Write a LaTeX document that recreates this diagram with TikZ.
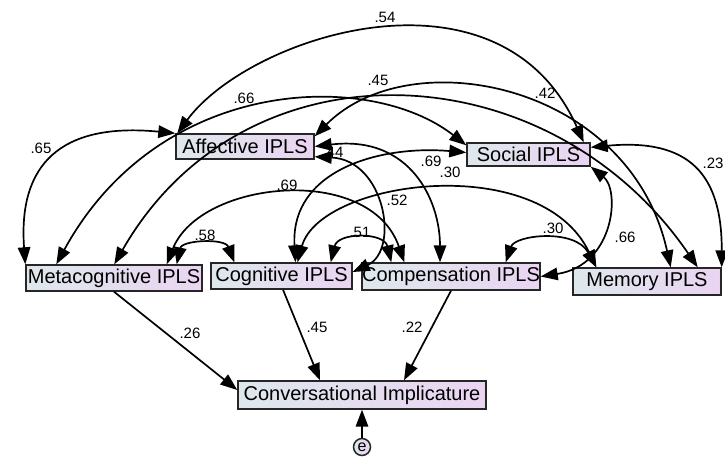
\documentclass[tikz,border=0pt]{standalone}
\usepackage{fontspec}
\setmainfont{Liberation Sans}
\usetikzlibrary{arrows.meta}
\definecolor{boxleft}{RGB}{222,232,236}
\definecolor{boxright}{RGB}{234,212,242}

\begin{document}
\begin{tikzpicture}[x=1pt, y=-1pt, >={Triangle[length=17pt,width=12.5pt]},
    obs/.style={draw=black!85, line width=1.4pt, left color=boxleft, right color=boxright,
        inner sep=0pt, minimum height=25pt, font=\fontsize{20}{24}\selectfont},
    err/.style={circle, draw=black!85, line width=1.5pt, left color=boxleft, right color=boxright,
        inner sep=0pt, minimum size=17pt, font=\fontsize{16}{18}\selectfont},
    coef/.style={inner sep=0pt, font=\fontsize{15}{17}\selectfont},
    link/.style={line width=1.7pt}]
    \useasboundingbox (0,0) rectangle (725,458);

    % IPLS strategies
    \node[obs, minimum width=138pt] (aff) at (245,146.5) {Affective IPLS};
    \node[obs, minimum width=123pt, minimum height=23pt] (soc) at (528.5,154.5) {Social IPLS};
    \node[obs, minimum width=176pt, minimum height=26pt] (meta) at (114,278) {Metacognitive IPLS};
    \node[obs, minimum width=141pt, minimum height=26pt] (cog) at (281.5,276) {Cognitive IPLS};
    \node[obs, minimum width=178pt, minimum height=27pt] (comp) at (451,276.5) {Compensation IPLS};
    \node[obs, minimum width=148pt, minimum height=27pt] (mem) at (647,281.5) {Memory IPLS};
        % outcome and error
        \node[obs, minimum width=248pt, minimum height=28pt] (conv) at (362,395) {Conversational Implicature};
        \node[err] (e) at (362,447) {e};

    % correlations
    \node[coef] (kAS) at (385,17)  {.54};
    \node[coef] (kMS) at (244,98)  {.66};
    \node[coef] (kMR) at (378,80)  {.45};
    \node[coef] (kAR) at (545,93)  {.42};
    \node[coef] (kAM) at (41,148)  {.65};
    \node[coef] (kCS) at (333,152) {.44};
    \node[coef] (kAP) at (431,161) {.69};
    \node[coef] (kCR) at (450,172) {.30};
    \node[coef] (kMP) at (287,185) {.69};
    \node[coef] (kAC) at (397,200) {.52};
    \node[coef] (kMC) at (205,235) {.58};
    \node[coef] (kCP) at (360,232) {.51};
    \node[coef] (kPR) at (553,228) {.30};
    \node[coef] (kSP) at (625,237) {.66};
    \node[coef] (kSR) at (713,163) {.23};
    % regression weights
    \node[coef] (wM) at (190,333) {.26};
    \node[coef] (wC) at (317,327) {.45};
    \node[coef] (wP) at (412,327) {.22};

    \draw[link, <->] ([xshift=2pt]aff.north west) .. controls (250,35) and (500,-45) .. ([xshift=-7pt]soc.north east);
    \draw[link, <->] (aff.north west) .. controls (60,122) and (18,165) .. (meta.north west);
    \draw[link, <->] ([xshift=31pt]meta.north west) .. controls (160,75) and (370,70) .. ([yshift=-3pt]soc.north west);
    \draw[link, <->] ([xshift=89pt]meta.north west) .. controls (245,36) and (549,50) .. ([xshift=-24pt]mem.north east);
    \draw[link, <->] ([yshift=-3pt]aff.north east) .. controls (410,40) and (630,83) .. ([xshift=-51pt]mem.north east);
    \draw[link, <->] ([yshift=-5pt]soc.north east) .. controls (690,138) and (722,175) .. (mem.north east);
    \draw[link, <->] (soc.south east) .. controls (620,190) and (615,265) .. (comp.east);
    \draw[link, <->] ([xshift=-35pt]comp.north east) .. controls (515,235) and (575,228) .. ([xshift=24pt]mem.north west);
    \draw[link, <->] ([xshift=16pt]cog.north) .. controls (320,180) and (540,150) .. ([xshift=24pt]mem.north west);
    \draw[link, <->] ([xshift=14pt]cog.north) .. controls (290,170) and (380,145) .. ([yshift=2pt]soc.west);
    \draw[link, <->] ([yshift=3pt]aff.south east) .. controls (385,160) and (400,250) .. ([yshift=4pt]cog.east);
    \draw[link, <->] (aff.east) .. controls (410,135) and (440,200) .. ([xshift=-11pt]comp.north);
    \draw[link, <->] ([xshift=-26pt]meta.north east) .. controls (182,240) and (225,238) .. ([xshift=24pt]cog.north west);
    \draw[link, <->] ([xshift=-36pt]meta.north east) .. controls (200,180) and (370,163) .. ([xshift=43pt]comp.north west);
    \draw[link, <->] ([xshift=-22pt]cog.north east) .. controls (338,232) and (384,232) .. ([xshift=30pt]comp.north west);

    \draw[link, ->] (meta.south) -- ([yshift=5pt]conv.west);
    \draw[link, ->] ([xshift=1.5pt]cog.south) -- ([xshift=-42pt]conv.north);
    \draw[link, ->] (comp.south) -- ([xshift=42pt]conv.north);
    \draw[link, ->] (e) -- (conv);
\end{tikzpicture}
\end{document}
